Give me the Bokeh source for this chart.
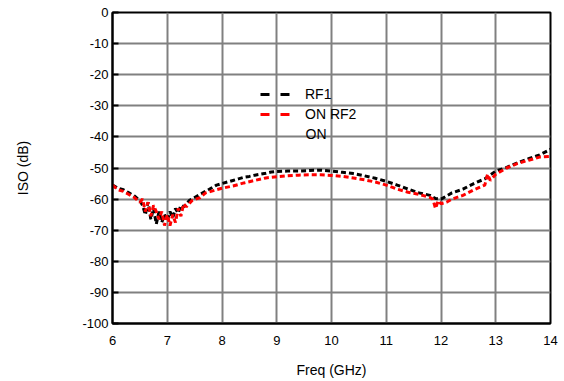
from bokeh.plotting import figure
from bokeh.models import Range1d, FixedTicker, Legend, LegendItem, Label
from bokeh.embed import file_html
from bokeh.resources import INLINE

# Data
rf1_freq = [6.0, 6.1, 6.2, 6.3, 6.4, 6.5, 6.55, 6.6, 6.65, 6.7, 6.75, 6.8, 6.85, 6.9, 6.95,
            7.0, 7.05, 7.1, 7.15, 7.2, 7.25, 7.3, 7.4, 7.5, 7.6, 7.7, 7.8, 7.9, 8.0, 8.1,
            8.2, 8.3, 8.4, 8.5, 8.6, 8.7, 8.8, 8.9, 9.0, 9.2, 9.4, 9.6, 9.8, 10.0, 10.2,
            10.4, 10.6, 10.8, 11.0, 11.2, 11.4, 11.6, 11.8, 11.9, 12.0, 12.1, 12.2, 12.4,
            12.6, 12.8, 13.0, 13.2, 13.4, 13.6, 13.8, 14.0]
rf1_iso = [-55.5, -56.5, -57, -58, -59, -60.5, -62, -65, -61, -66.5, -63, -68, -64, -67.5, -65,
           -67, -64, -66, -63, -64.5, -62, -62.5, -60.5, -59.5, -58.5, -57.5, -56.5, -55.5, -55, -54.5,
           -54, -53.5, -53, -52.7, -52.3, -52, -51.7, -51.3, -51.1, -51.0, -51, -50.8, -50.7, -51, -51.4,
           -51.8, -52.5, -53.3, -54.3, -55.5, -56.8, -58, -58.8, -59.8, -60, -59, -58, -56.8,
           -55, -53.5, -51, -49.8, -48.3, -47, -45.8, -44]

rf2_freq = [6.0, 6.1, 6.2, 6.3, 6.4, 6.5, 6.55, 6.6, 6.65, 6.7, 6.75, 6.8, 6.85, 6.9, 6.95,
            7.0, 7.05, 7.1, 7.15, 7.2, 7.25, 7.3, 7.35, 7.45, 7.6, 7.7, 7.8, 7.9, 8.0, 8.2,
            8.4, 8.6, 8.8, 9.0, 9.2, 9.4, 9.6, 9.8, 10.0, 10.2, 10.4, 10.6, 10.8, 11.0, 11.2,
            11.4, 11.6, 11.8, 11.85, 11.9, 11.95, 12.0, 12.1, 12.2, 12.4, 12.6, 12.8, 12.85,
            12.9, 13.0, 13.2, 13.4, 13.6, 13.8, 14.0]
rf2_iso = [-55.5, -57, -57.5, -58.5, -59.5, -61, -60, -64, -61, -65.5, -62, -64, -66.5, -64, -68.5,
           -65, -68.5, -65, -67.5, -63, -65.5, -61.5, -62.5, -60.5, -59.5, -58, -57.5, -57, -56.5, -55.8,
           -54.8, -54, -53.2, -52.8, -52.5, -52.3, -52.2, -52.2, -52.4, -52.7, -53.2, -53.8, -54.5, -55.5, -56.8,
           -57.8, -58.5, -59.5, -60, -63, -60.5, -61.5, -61, -60, -58.8, -57, -55.5, -52,
           -54, -52, -50, -48.5, -47.5, -46.5, -46.3]

x_ticks = [6, 7, 8, 9, 10, 11, 12, 13, 14]
y_ticks = [0, -10, -20, -30, -40, -50, -60, -70, -80, -90, -100]

FONT = "Liberation Sans"

p = figure(width=564, height=381, output_backend="svg", toolbar_location=None,
           x_range=Range1d(6, 14), y_range=Range1d(-100, 0),
           min_border_left=112, min_border_right=14, min_border_top=12, min_border_bottom=58)

p.outline_line_color = "black"
p.outline_line_width = 2
p.background_fill_color = "white"

for ax in (p.xaxis[0], p.yaxis[0]):
    ax.axis_line_color = "black"
    ax.axis_line_width = 2
    ax.major_label_text_font = FONT
    ax.major_label_text_font_size = "13px"
    ax.major_label_text_color = "black"
    ax.axis_label_text_font = FONT
    ax.axis_label_text_font_size = "14px"
    ax.axis_label_text_font_style = "normal"
    ax.axis_label_text_color = "black"
    ax.minor_tick_line_color = None

p.xaxis.ticker = FixedTicker(ticks=x_ticks)
p.yaxis.ticker = FixedTicker(ticks=y_ticks)
p.yaxis.major_label_overrides = {t: str(t) for t in y_ticks}
p.xaxis.major_label_overrides = {t: str(t) for t in x_ticks}
p.xaxis.axis_label = "Freq (GHz)"
p.yaxis.axis_label = "ISO (dB)"
p.xaxis.major_tick_line_color = None
p.xaxis.major_label_standoff = 6
p.xaxis.axis_label_standoff = 14
p.yaxis.major_tick_in = 6
p.yaxis.major_tick_out = 0
p.yaxis.major_tick_line_color = "black"
p.yaxis.major_tick_line_width = 2
p.yaxis.major_label_standoff = 4
p.yaxis.axis_label_standoff = 48

p.grid.grid_line_color = "#808080"
p.grid.grid_line_width = 2
p.grid.grid_line_alpha = 1

p.line(rf1_freq, rf1_iso, line_color="black", line_width=3, line_dash="5 3")
p.line(rf2_freq, rf2_iso, line_color="#ff0000", line_width=3, line_dash="5 3")

# legend-only samples (no visible data) with the legend's longer dashes
nan = float("nan")
k1 = p.line([nan], [nan], line_color="black", line_width=3, line_dash="9 11")
k2 = p.line([nan], [nan], line_color="#ff0000", line_width=3, line_dash="9 11")

legend = Legend(items=[LegendItem(label="RF1", renderers=[k1]),
                       LegendItem(label="ON RF2", renderers=[k2])],
                location=(148, 199), padding=0, margin=0, spacing=0,
                glyph_width=30, glyph_height=20, label_height=20, label_standoff=15,
                border_line_alpha=0, background_fill_alpha=0,
                label_text_font=FONT, label_text_font_size="14px", label_text_color="black")
p.add_layout(legend)

p.add_layout(Label(x=9.525, y=-39.2, text="ON", text_font=FONT, text_font_size="14px",
                   text_baseline="middle", text_color="black"))

open("out.html", "w").write(file_html(p, INLINE))
